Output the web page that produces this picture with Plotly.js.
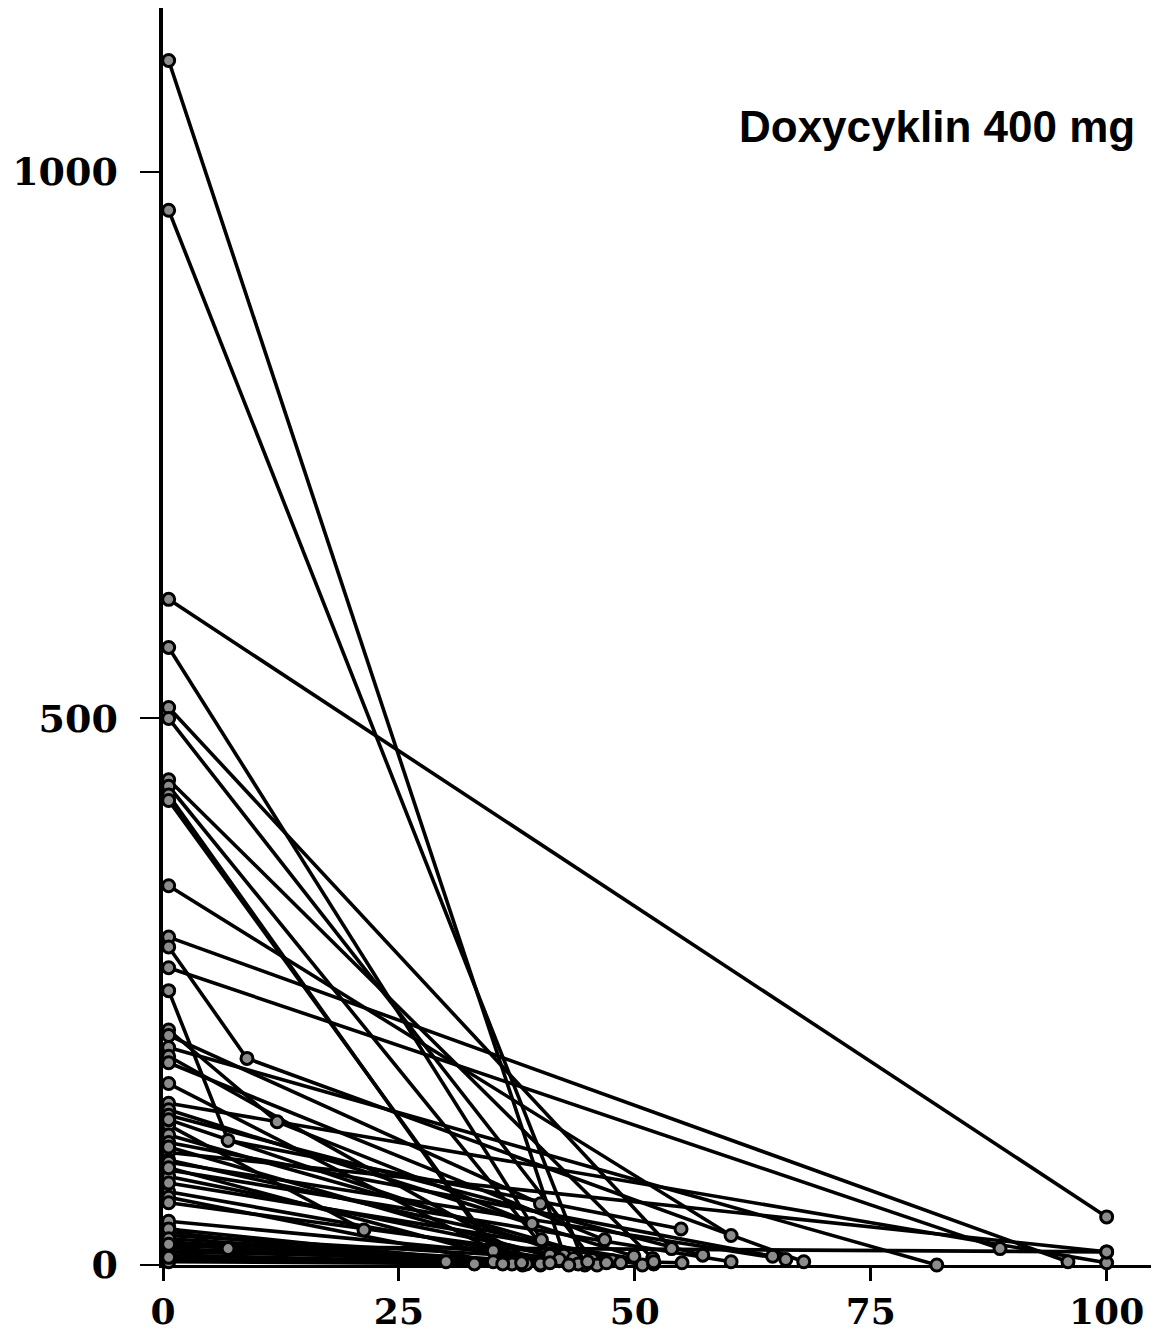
<!DOCTYPE html>
<html>
<head>
<meta charset="utf-8">
<script src="https://cdn.plot.ly/plotly-3.0.1.min.js"></script>
<style>
html,body{margin:0;padding:0;background:#ffffff;}
#chart{width:1151px;height:1332px;}
</style>
</head>
<body>
<div id="chart"></div>
<script>
// ---- data (one entry per subject) ----
const startTime = [0.6,0.6,0.6,0.6,0.6,0.6,0.6,0.6,0.6,0.6,
                   0.6,0.6,0.6,0.6,0.6,0.6,0.6,0.6,0.6,0.6,
                   0.6,0.6,0.6,0.6,0.6,0.6,0.6,0.6,0.6,0.6,
                   0.6,0.6,0.6,0.6,0.6,0.6,0.6,0.6,0.6,0.6,
                   0.6,0.6,0.6,0.6,0.6,0.6,0.6,0.6,0.6,0.6,
                   0.6,0.6,0.6,0.6];
const startConc = [1102,965,609,565,510,500,444,438,430,425,
                   347,300,291,272,251,215,210,199,191,185,
                   166,148,142,137,128,119,112,103,96,94,
                   87,81,67,62,57,35,30,27,21,17,
                   15,12,9,5,3,133,108,89,75,40,
                   33,24,19,7];
const midTime   = [null,null,null,null,null,null,null,null,null,null,
                   null,null,8.9,null,6.9,12.1,null,null,null,null,
                   null,null,null,null,null,null,null,null,null,null,
                   null,null,null,null,null,6.9,null,null,null,null,
                   null,null,null,null,null,null,null,null,null,null,
                   null,null,null,null];
const midConc   = [null,null,null,null,null,null,null,null,null,null,
                   null,null,189,null,114,131,null,null,null,null,
                   null,null,null,null,null,null,null,null,null,null,
                   null,null,null,null,null,15,null,null,null,null,
                   null,null,null,null,null,null,null,null,null,null,
                   null,null,null,null];
const endTime   = [42.5,44.7,100,40.1,53.9,45.5,51.9,41,35,36.1,
                   60.2,95.9,67.9,88.7,54.9,39.1,40,82,40,46.8,
                   38.1,100,49.9,57.2,21.3,47.6,64.6,100,50.8,66,
                   60.2,43.5,42,35,48.5,45,30,52,44,100,
                   38.5,55,46,40,37,45,42,38,52,47,
                   36,41,33,43];
const endConc   = [9,0,44,23,15,5,6,9,13,3,
                   27,3,3,15,33,38,56,0,0,23,
                   0,2,8,9,32,4,8,12,0,5,
                   3,6,4,3,2,2,3,1,1,12,
                   1,2,0,1,1,3,5,2,3,2,
                   1,2,1,0];
const xTickVals = [0,25,50,75,100];
const xTickText = ['0','25','50','75','100'];
const yTickVals = [0,500,1000];
const yTickText = ['0','500','1000'];
const titleText = 'Doxycyklin 400 mg';

// ---- build traces ----
const lineX = [], lineY = [], ptX = [], ptY = [];
for (let i = 0; i < startConc.length; i++) {
  lineX.push(startTime[i]); lineY.push(startConc[i]);
  ptX.push(startTime[i]); ptY.push(startConc[i]);
  if (midTime[i] !== null) {
    lineX.push(midTime[i]); lineY.push(midConc[i]);
    ptX.push(midTime[i]); ptY.push(midConc[i]);
  }
  lineX.push(endTime[i]); lineY.push(endConc[i]);
  ptX.push(endTime[i]); ptY.push(endConc[i]);
  lineX.push(null); lineY.push(null);
}

const traces = [
  {type:'scatter', mode:'lines', x:lineX, y:lineY, connectgaps:false,
   line:{color:'#000000', width:3.6}, cliponaxis:false, hoverinfo:'skip'},
  {type:'scatter', mode:'markers', x:ptX, y:ptY, cliponaxis:false, hoverinfo:'skip',
   marker:{symbol:'circle', size:12, color:'#8c8c8c', line:{color:'#000000', width:3}}}
];

const yTickFont = {family:'DejaVu Serif', size:38, color:'#000000', weight:'bold'};
const xTickFont = {family:'DejaVu Serif', size:36, color:'#000000', weight:'bold'};

const layout = {
  width:1151, height:1332,
  margin:{l:163, r:0, t:8, b:67, pad:0},
  paper_bgcolor:'#ffffff', plot_bgcolor:'#ffffff',
  showlegend:false,
  xaxis:{range:[0,104.7], tickmode:'array', tickvals:xTickVals, ticktext:xTickText,
         ticks:'outside', ticklen:13, tickwidth:3, tickcolor:'#000000',
         showline:true, linewidth:3, linecolor:'#000000', layer:'below traces',
         showgrid:false, zeroline:false, tickfont:xTickFont, ticklabelstandoff:0,
         automargin:false, fixedrange:true},
  yaxis:{range:[0,1150], tickmode:'array', tickvals:yTickVals, ticktext:yTickText,
         ticks:'outside', ticklen:19, tickwidth:2, tickcolor:'#000000',
         showline:true, linewidth:4.5, linecolor:'#000000', layer:'below traces',
         showgrid:false, zeroline:false, tickfont:yTickFont, ticklabelstandoff:14,
         automargin:false, fixedrange:true},
  annotations:[{text:'<b>'+titleText+'</b>', xref:'paper', yref:'paper',
                x:0.581, y:0.906, xanchor:'left', yanchor:'middle', showarrow:false,
                font:{family:'Liberation Sans, Arial, sans-serif', size:44, color:'#000000'}}]
};

Plotly.newPlot('chart', traces, layout, {staticPlot:true, displayModeBar:false});
</script>
</body>
</html>
